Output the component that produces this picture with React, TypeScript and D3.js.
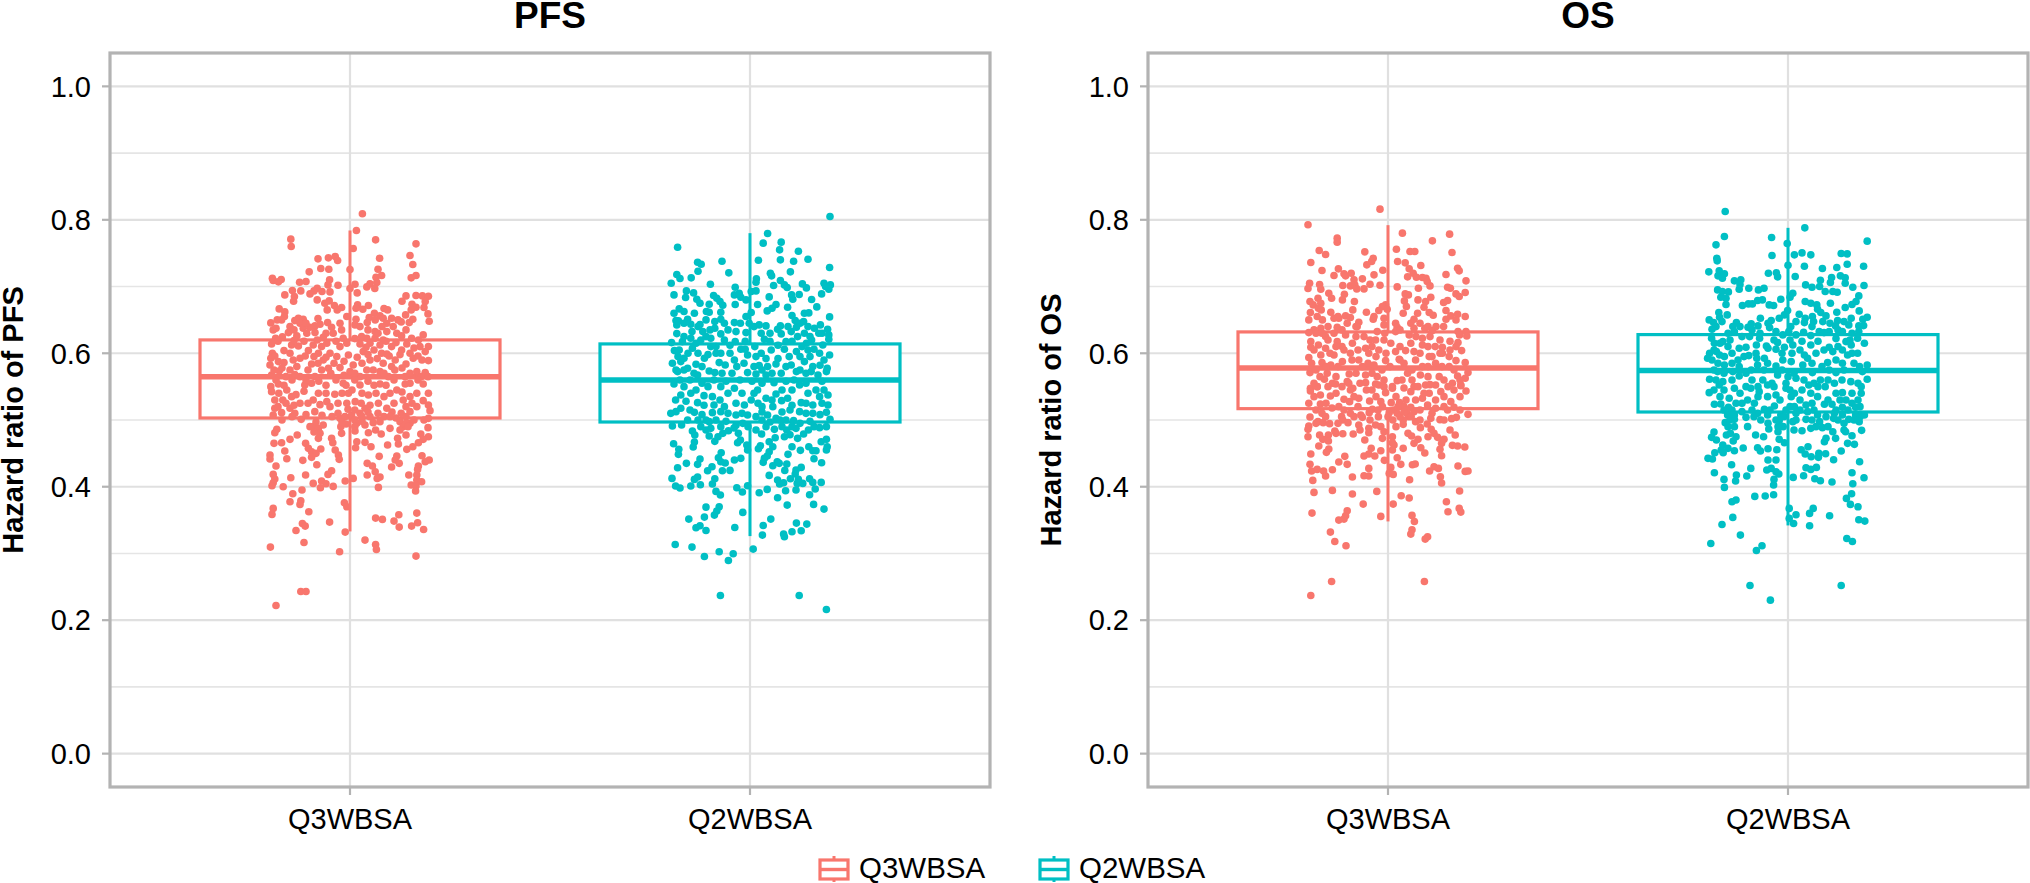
import React from "react";
import * as d3 from "d3";

// Each point is [horizontal jitter in category units, hazard ratio]
const pfsQ3: number[][] = [[.031,.809],[.016,.784],[-.148,.771],[-.147,.76],[.064,.77],[.165,.764],[.008,.757],[.15,.7465],[.157,.733],[.074,.7425],[-.08,.7415],[-.054,.743],[-.037,.745],[-.031,.739],[-.073,.727],[-.053,.726],[-.102,.722],[0,.7255],[.07,.726],[.079,.7165],[.065,.714],[.165,.7165],[.153,.713],[-.194,.7125],[-.192,.709],[-.172,.7105],[-.179,.707],[-.126,.7065],[-.11,.7075],[-.051,.71],[.067,.706],[.0125,.7035],[-.03,.702],[-.055,.7025],[.05,.704],[.042,.6995],[.062,.697],[0,.697],[-.144,.694],[-.123,.6935],[-.082,.6975],[-.09,.6935],[-.07,.6925],[-.05,.692],[.018,.6905],[-.1,.689],[-.163,.6875],[-.139,.685],[-.141,.678],[-.082,.68],[-.052,.6785],[-.063,.675],[.14,.686],[.13,.678],[.165,.6865],[.181,.686],[.196,.6855],[.188,.6775],[.155,.6735],[.165,.669],[.153,.665],[.185,.6685],[.195,.659],[.198,.648],[.139,.6575],[.157,.651],[.148,.646],[.128,.647],[.019,.6725],[.015,.6675],[.046,.6715],[.032,.666],[.085,.667],[.094,.665],[.061,.66],[-.039,.6715],[-.021,.6685],[-.032,.665],[-.057,.665],[-.177,.6665],[-.163,.662],[-.164,.655],[-.171,.65],[-.198,.6455],[-.008,.655],[.015,.651],[.048,.6535],[.043,.646],[.075,.656],[.063,.65],[.083,.6525],[.104,.6525],[.092,.645],[-.129,.6525],[-.117,.651],[-.138,.649],[-.125,.645],[-.056,.646],[-.075,.6435],[-.0875,.641],[-.1,.639],[-.117,.6375],[-.025,.645],[-.046,.639],[-.021,.635],[.0125,.6425],[.025,.64],[.108,.64],[.092,.6325],[.0625,.6325],[-.192,.635],[-.185,.6375],[-.154,.631],[-.169,.6245],[-.186,.6225],[-.133,.626],[-.108,.63],[-.0875,.631],[-.067,.624],[-.042,.63],[-.017,.6225],[.029,.625],[.042,.6225],[.0625,.6225],[.083,.62],[.117,.63],[.129,.626],[.154,.6225],[.183,.6275],[.171,.62],[-.196,.614],[-.146,.6125],[-.129,.611],[-.092,.6125],[-.071,.61],[-.025,.61],[-.008,.615],[.025,.614],[.05,.615],[.075,.6125],[.104,.61],[.129,.605],[.175,.61],[.196,.61],[.188,.6025],[-.194,.6],[-.15,.6],[-.104,.604],[-.079,.6],[-.05,.6],[-.004,.5975],[.033,.6025],[.079,.6],[.092,.599],[.15,.6],[-.198,.5925],[-.125,.5925],[-.067,.59],[-.033,.595],[.05,.59],[.113,.59],[.158,.5925],[.196,.589],[-.2,.5825],[-.179,.5875],[-.165,.586],[-.133,.58],[-.096,.584],[-.025,.5785],[.008,.5825],[.083,.585],[.104,.58],[.042,.575],[-.177,.5735],[-.15,.575],[-.071,.575],[-.054,.5775],[0,.5725],[.075,.5725],[.167,.5725],[.188,.571],[-.196,.5675],[-.125,.565],[-.0875,.565],[.025,.565],[.096,.565],[.138,.565],[-.198,.55],[-.179,.554],[-.196,.5425],[-.158,.545],[-.146,.535],[-.113,.5525],[-.096,.555],[-.125,.525],[-.079,.54],[-.092,.53],[-.058,.5275],[-.038,.5385],[-.05,.52],[-.017,.555],[-.004,.54],[.013,.5275],[-.008,.525],[.025,.5525],[.046,.5375],[.0375,.5175],[.075,.554],[.1,.54],[.071,.525],[.092,.5175],[.117,.545],[.133,.53],[.138,.554],[.167,.54],[.183,.554],[.196,.54],[.183,.529],[.196,.5225],[.2,.514],[.167,.52],[.15,.5125],[-.188,.53],[-.188,.5175],[-.15,.5175],[-.171,.511],[-.192,.5075],[-.138,.51],[-.122,.501],[-.088,.5125],[-.025,.5025],[-.0125,.505],[.004,.5075],[.017,.495],[.025,.51],[.0375,.4925],[.05,.505],[.058,.496],[.075,.4975],[.1,.4875],[.125,.4975],[.133,.49],[.15,.495],[.196,.5025],[.195,.4885],[-.183,.486],[-.188,.481],[-.132,.4775],[-.15,.471],[-.171,.466],[-.19,.465],[-.092,.49],[-.079,.4875],[-.067,.4925],[-.075,.48],[-.079,.4725],[-.021,.48],[-.023,.49],[.0125,.4835],[.046,.481],[.078,.479],[.14,.4775],[.177,.479],[.196,.475],[.183,.471],[.171,.466],[.157,.46],[.142,.456],[-.046,.4725],[-.043,.466],[-.111,.465],[.017,.4675],[.0375,.4665],[.014,.4585],[.0525,.46],[.094,.4625],[.119,.4725],[.121,.464],[-.104,.4575],[-.073,.4565],[-.096,.4525],[-.085,.45],[-.163,.4535],[-.037,.455],[-.029,.4475],[-.027,.441],[-.158,.442],[-.2,.4475],[-.2,.4415],[-.118,.4395],[-.096,.444],[.073,.4455],[.117,.446],[.113,.44],[.123,.435],[.18,.4465],[.198,.44],[.188,.4375],[-.083,.433],[-.185,.431],[.043,.435],[.056,.431],[.104,.4295],[.171,.431],[.169,.426],[-.046,.424],[-.055,.4185],[-.192,.4185],[-.111,.4175],[-.148,.4135],[-.188,.4115],[-.192,.406],[-.195,.4015],[.063,.4225],[.043,.4175],[.075,.4145],[.068,.4125],[.147,.4175],[.167,.4175],[.167,.41],[.179,.4075],[.153,.4025],[.165,.401],[.164,.3935],[.008,.4125],[-.012,.4085],[-.071,.4085],[-.092,.405],[-.06,.4045],[-.074,.3985],[-.042,.4005],[-.167,.4],[-.12,.395],[.071,.399],[-.143,.3895],[-.15,.3775],[-.123,.379],[-.125,.3735],[-.192,.3675],[-.195,.3585],[-.103,.3625],[-.014,.376],[-.008,.37],[.064,.353],[.081,.351],[.122,.358],[.11,.3485],[.167,.3605],[.169,.346],[.154,.341],[.123,.3395],[.184,.336],[-.119,.345],[-.112,.341],[-.051,.347],[-.135,.3345],[-.012,.332],[.0375,.32],[.064,.3135],[.066,.306],[-.115,.3165],[-.199,.3095],[-.026,.3025],[.165,.296],[-.123,.243],[-.11,.243],[-.185,.222]];
const pfsQ3Core: number[][] = [[-.18,.618],[-.165,.604],[-.14,.619],[-.115,.618],[-.082,.62],[-.058,.615],[-.035,.618],[.012,.622],[.04,.609],[.06,.605],[.09,.618],[.115,.616],[.142,.614],[.16,.608],[.18,.59],[-.188,.596],[-.17,.578],[-.142,.59],[-.112,.596],[-.09,.595],[-.06,.594],[-.04,.585],[-.015,.588],[.018,.594],[.045,.598],[.068,.592],[.098,.596],[.125,.598],[.14,.584],[.17,.596],[-.19,.575],[-.16,.565],[-.138,.568],[-.105,.575],[-.08,.585],[-.048,.57],[-.015,.567],[.012,.57],[.03,.585],[.058,.575],[.085,.57],[.112,.575],[.13,.578],[.15,.57],[.178,.565],[.195,.565],[-.185,.56],[-.165,.552],[-.145,.56],[-.11,.56],[-.078,.558],[-.06,.552],[-.035,.56],[-.01,.552],[.012,.56],[.045,.558],[.06,.552],[.09,.552],[.11,.56],[.15,.555],[.17,.56],[-.178,.54],[-.168,.53],[-.135,.538],[-.115,.543],[-.06,.54],[-.02,.54],[.005,.545],[.03,.54],[.065,.54],[.085,.535],[.13,.542],[.15,.535],[-.18,.52],[-.16,.525],[-.14,.522],[-.105,.525],[-.075,.523],[-.03,.525],[.028,.525],[.05,.522],[.11,.525],[.14,.52],[.155,.525],[-.17,.5],[-.145,.505],[-.11,.508],[-.07,.507],[-.045,.505],[-.01,.494],[.012,.515],[.03,.498],[.045,.512],[.07,.51],[.085,.505],[.105,.512],[.115,.503],[.128,.51],[.14,.505],[.16,.5],[.012,.5],[.03,.505],[.14,.495],[.125,.485],[.145,.49],[.1,.505],[.064,.485],[-.09,.482],[-.085,.497],[-.1,.49],[-.02,.497],[-.03,.51],[-.005,.516],[.012,.49],[.185,.5],[-.182,.65],[-.15,.64],[-.11,.645],[-.08,.652],[.12,.65],[.14,.635],[-.14,.635],[.08,.64],[.07,.63],[.045,.635],[-.06,.63]];

const pfsQ2: number[][] = [[.2,.805],[.044,.7795],[.033,.765],[.078,.7665],[.074,.755],[.121,.753],[-.181,.759],[.021,.7395],[.076,.74],[.109,.738],[.145,.741],[-.07,.738],[-.131,.7365],[-.122,.7335],[-.13,.723],[-.053,.7205],[.199,.7285],[.051,.72],[.101,.722],[-.183,.718],[-.175,.712],[-.147,.713],[-.197,.705],[.054,.716],[.016,.7115],[.015,.7065],[-.099,.7035],[-.037,.699],[.076,.709],[.086,.7025],[.093,.6985],[.131,.704],[.141,.698],[.059,.7015],[.185,.705],[.201,.7025],[.189,.7],[.197,.696],[.003,.6925],[.015,.6935],[-.159,.6935],[-.141,.6905],[-.19,.6875],[-.161,.6835],[-.039,.6875],[-.027,.69],[-.023,.684],[-.01,.68],[-.091,.6865],[-.083,.6825],[-.133,.681],[-.125,.675],[-.102,.6735],[-.075,.6775],[-.068,.672],[-.037,.673],[.048,.6845],[.019,.673],[.104,.6875],[.123,.688],[.107,.681],[.179,.689],[.154,.6805],[.167,.6695],[.094,.669],[.065,.673],[.055,.6675],[.043,.6635],[-.177,.6665],[-.165,.6625],[-.19,.66],[-.139,.66],[-.109,.6625],[-.102,.6615],[-.073,.6615],[.003,.661],[-.01,.655],[.136,.66],[.147,.6605],[.105,.6565],[.199,.6545],[.113,.649],[.134,.6475],[-.185,.649],[-.156,.651],[-.179,.6485],[-.183,.6425],[-.148,.6435],[-.125,.643],[-.088,.6475],[-.073,.651],[-.064,.645],[-.039,.646],[-.024,.645],[-.002,.645],[.023,.6425],[.04,.641],[.076,.641],[.069,.636],[.116,.639],[.145,.64],[.176,.6425],[.161,.6375],[.194,.636],[-.088,.6375],[-.145,.6325],[-.118,.6325],[-.183,.6295],[-.073,.629],[-.035,.6325],[-.01,.631],[.028,.63],[.078,.629],[.103,.6325],[.136,.63],[.172,.63],[.197,.6275],[-.148,.6225],[-.098,.6225],[-.064,.62],[.036,.621],[.119,.625],[.154,.62],[.197,.621],[-.196,.616],[-.169,.6175],[-.123,.62],[-.037,.6175],[.09,.6175],[.141,.615],[.182,.6125],[-.144,.6075],[-.098,.61],[-.189,.604],[-.177,.605],[-.073,.6],[-.023,.606],[.028,.6],[.053,.605],[.086,.606],[.116,.6025],[.145,.605],[.174,.6],[.199,.5975],[-.165,.5925],[-.114,.5925],[-.006,.5975],[.015,.595],[-.039,.59],[.136,.5875],[-.194,.585],[-.173,.5875],[-.135,.5835],[-.077,.586],[-.062,.5825],[-.033,.58],[.023,.5815],[.065,.584],[.044,.58],[.103,.5825],[.157,.58],[.193,.5775],[-.181,.5725],[-.156,.5775],[-.102,.5735],[-.088,.571],[-.006,.571],[.015,.569],[.04,.5675],[.078,.57],[.116,.5725],[.153,.5725],[.191,.5725],[.17,.5675],[-.131,.5675],[-.19,.554],[-.173,.5375],[-.186,.53],[-.148,.54],[-.131,.526],[-.115,.5365],[-.094,.535],[-.09,.5225],[-.064,.52],[-.073,.55],[-.039,.5475],[-.014,.5225],[.003,.53],[.019,.545],[.04,.5325],[.065,.539],[.057,.52],[.094,.5325],[.079,.529],[.128,.526],[.157,.5225],[.174,.535],[.195,.5375],[.195,.5225],[.124,.5525],[.165,.545],[-.198,.51],[-.185,.5125],[-.173,.5175],[-.139,.5115],[-.094,.511],[-.073,.5125],[-.035,.5075],[-.006,.5075],[.015,.505],[.044,.5075],[.065,.5025],[.09,.5],[.109,.499],[.124,.5125],[.157,.51],[.191,.5115],[.2,.501],[.191,.49],[.174,.4885],[-.194,.491],[-.171,.4925],[-.156,.5],[-.123,.49],[-.102,.4975],[-.098,.4875],[-.073,.49],[-.054,.484],[-.068,.48],[-.018,.495],[.015,.485],[-.144,.4835],[-.138,.4775],[-.102,.476],[-.088,.468],[-.029,.48],[-.024,.47],[-.031,.466],[.029,.479],[.061,.486],[.092,.485],[.086,.475],[.115,.4875],[.134,.479],[.119,.4725],[.146,.485],[.063,.4735],[.048,.4675],[.191,.471],[.178,.4675],[-.191,.4645],[-.139,.467],[-.142,.4595],[-.178,.456],[-.179,.4485],[-.008,.4625],[-.006,.455],[.026,.4615],[.021,.457],[.057,.46],[.048,.4525],[.043,.446],[.105,.46],[.126,.4545],[.147,.46],[.157,.454],[.165,.454],[.16,.442],[.193,.46],[.191,.455],[.095,.4485],[-.072,.451],[-.079,.4435],[-.159,.435],[-.125,.4415],[-.131,.4335],[-.073,.4375],[-.062,.4355],[-.039,.44],[-.023,.4425],[.036,.4425],[.033,.4365],[.068,.4375],[.057,.4315],[.073,.435],[.092,.434],[.179,.436],[-.181,.4285],[-.095,.43],[-.106,.424],[-.069,.424],[-.05,.4245],[.087,.4245],[.128,.429],[.115,.425],[.113,.419],[.048,.417],[-.195,.4125],[-.131,.4145],[-.139,.411],[-.088,.412],[-.094,.404],[-.186,.401],[-.175,.398],[-.148,.401],[-.124,.403],[.069,.41],[.074,.404],[.084,.406],[.101,.412],[.121,.411],[.118,.405],[.132,.405],[.149,.412],[.157,.4065],[.178,.4065],[.163,.3965],[.115,.395],[.089,.394],[.043,.396],[.023,.391],[-.033,.3985],[-.019,.392],[-.006,.4015],[-.085,.393],[-.074,.3875],[.149,.388],[.069,.3835],[.093,.3725],[.159,.3735],[.185,.3665],[-.077,.37],[-.11,.3695],[-.083,.3635],[-.089,.3575],[-.114,.3545],[-.153,.3515],[-.018,.3615],[.052,.3515],[-.125,.3415],[-.135,.3385],[-.11,.3345],[-.038,.339],[.033,.342],[.116,.3455],[.142,.344],[.128,.334],[.105,.3325],[.084,.329],[.086,.325],[.031,.3275],[-.187,.3135],[-.145,.3095],[-.077,.3025],[-.114,.2955],[-.042,.2995],[-.054,.2895],[.008,.3065],[-.074,.237],[.123,.237],[.191,.216]];
const pfsQ2Core: number[][] = [[-.165,.625],[-.135,.615],[-.11,.625],[-.085,.61],[-.05,.612],[-.012,.618],[.012,.61],[.05,.618],[.07,.612],[.105,.618],[.13,.61],[.16,.606],[-.18,.595],[-.155,.6],[-.13,.6],[-.105,.598],[-.085,.6],[-.05,.6],[-.012,.606],[.04,.592],[.07,.592],[.098,.595],[.125,.595],[.15,.595],[.185,.59],[-.185,.575],[-.165,.575],[-.14,.57],[-.12,.58],[-.07,.57],[-.045,.57],[-.015,.585],[.01,.58],[.03,.575],[.055,.57],[.09,.58],[.125,.575],[.14,.57],[.175,.582],[-.175,.56],[-.15,.56],[-.12,.555],[-.09,.56],[-.06,.558],[-.025,.56],[.005,.558],[.03,.555],[.06,.556],[.09,.558],[.11,.56],[.14,.555],[.18,.558],[-.165,.55],[-.135,.545],[-.105,.55],[-.055,.54],[-.02,.54],[.01,.54],[.03,.52],[.08,.545],[.105,.545],[.145,.54],[.185,.545],[-.16,.528],[-.115,.522],[-.075,.53],[-.035,.525],[.02,.525],[.055,.53],[.105,.522],[.14,.525],[.18,.525],[-.15,.515],[-.12,.508],[-.055,.51],[-.02,.51],[.03,.512],[.08,.512],[.1,.515],[.14,.51],[.175,.508],[-.11,.5],[-.085,.5],[-.06,.498],[-.035,.492],[-.005,.49],[.03,.5],[.05,.497],[.075,.5],[.105,.49],[.125,.495],[.15,.498],[-.13,.5],[-.11,.485],[-.08,.475],[-.04,.488],[.04,.49],[.08,.49],[.1,.478],[.16,.49],[-.13,.64],[-.11,.65],[-.055,.635],[.01,.64],[.095,.64],[.125,.645],[.15,.625],[-.1,.635],[.05,.63],[.18,.63],[-.165,.645]];

const osQ3: number[][] = [[-.02,.816],[-.2,.7925],[.036,.78],[.154,.7785],[-.127,.7725],[-.127,.7665],[.111,.7685],[.021,.756],[-.172,.754],[-.156,.748],[-.058,.752],[.055,.7525],[.067,.7525],[.16,.751],[-.037,.7425],[-.041,.7375],[-.053,.7325],[-.193,.736],[.024,.7375],[.043,.7355],[.082,.7315],[-.165,.724],[-.124,.7265],[-.013,.7245],[.053,.7265],[.174,.7275],[.178,.7235],[-.135,.7165],[-.11,.719],[-.106,.716],[-.092,.72],[-.035,.7175],[.145,.718],[.063,.72],[.049,.7145],[.071,.714],[.086,.7135],[.095,.7125],[.195,.7085],[-.064,.7115],[-.085,.71],[-.196,.705],[-.2,.697],[-.171,.703],[-.168,.696],[-.113,.7015],[-.094,.701],[-.083,.7025],[-.078,.6965],[-.06,.6965],[-.045,.7035],[-.02,.702],[.023,.6995],[.076,.6975],[.098,.7075],[.105,.701],[.149,.699],[.156,.6975],[.193,.691],[.17,.689],[.178,.685],[-.148,.69],[-.141,.6825],[-.109,.6885],[-.114,.68],[-.084,.6775],[.043,.689],[.051,.6875],[.075,.68],[.107,.684],[.041,.6785],[.149,.679],[.139,.676],[.094,.6775],[-.195,.6775],[-.175,.6825],[-.187,.6725],[-.168,.675],[-.174,.6675],[-.194,.661],[-.167,.665],[.046,.67],[.09,.669],[.145,.664],[-.006,.6725],[-.014,.67],[-.023,.664],[-.002,.666],[-.088,.665],[-.054,.6615],[.038,.66],[.074,.66],[.103,.661],[.113,.657],[-.035,.655],[-.037,.651],[-.143,.6615],[-.177,.655],[-.164,.65],[-.198,.65],[-.135,.6525],[-.123,.6525],[-.106,.656],[-.094,.6535],[-.073,.6465],[-.102,.645],[-.01,.6525],[-.01,.6425],[.065,.651],[.057,.645],[.019,.645],[.023,.639],[.145,.651],[.157,.656],[.174,.6585],[.193,.655],[.17,.65],[.139,.64],[-.168,.6375],[-.185,.635],[-.127,.639],[-.077,.64],[.092,.6375],[.065,.6375],[.111,.634],[.195,.6325],[.175,.6325],[-.198,.631],[-.156,.625],[-.135,.63],[-.106,.6275],[-.06,.625],[-.027,.6325],[-.008,.63],[.019,.6325],[.053,.6275],[.086,.6225],[.197,.626],[.179,.6275],[-.193,.6175],[-.174,.6125],[-.127,.6175],[-.089,.615],[-.031,.62],[.007,.615],[.057,.615],[.086,.6125],[.155,.618],[.175,.616],[.118,.61],[.136,.609],[-.193,.609],[-.156,.6075],[-.11,.605],[-.056,.6075],[-.023,.605],[.044,.604],[.065,.6025],[.17,.61],[.184,.604],[-.168,.5975],[-.135,.5975],[-.094,.6],[-.048,.6],[.019,.6025],[.103,.595],[.136,.6],[-.198,.5935],[-.073,.59],[-.006,.589],[.028,.591],[.069,.59],[.153,.595],[-.165,.586],[-.114,.5875],[-.035,.5825],[-.191,.585],[.086,.58],[.119,.585],[.17,.589],[.193,.586],[-.143,.5825],[-.064,.58],[.153,.58],[-.195,.571],[-.152,.57],[-.097,.569],[-.056,.5675],[-.027,.565],[.049,.57],[.081,.5675],[.2,.571],[.174,.566],[.128,.565],[-.159,.561],[-.102,.5575],[.023,.559],[.161,.555],[-.139,.555],[.193,.5625],[-.031,.554],[-.177,.55],[-.194,.5475],[-.088,.5475],[.011,.55],[.182,.5515],[.094,.5525],[-.131,.554],[-.098,.555],[-.056,.556],[-.023,.5525],[.065,.55],[.119,.5525],[-.177,.55],[-.194,.5435],[-.169,.5375],[-.144,.536],[-.094,.545],[-.11,.531],[-.073,.5325],[-.054,.545],[-.006,.541],[.011,.5475],[.057,.5425],[.086,.5325],[.103,.54],[.132,.5425],[.165,.545],[.195,.5435],[.182,.5525],[-.198,.525],[-.169,.524],[-.123,.52],[-.096,.5275],[-.046,.5285],[-.018,.5275],[.008,.526],[.029,.526],[.069,.53],[.119,.53],[.157,.5275],[-.039,.516],[-.014,.52],[.015,.515],[.04,.52],[.057,.519],[.099,.5225],[.119,.5175],[.165,.519],[-.165,.51],[-.094,.51],[-.068,.5075],[-.047,.511],[.003,.511],[.023,.51],[.048,.51],[.065,.5125],[.149,.515],[-.195,.5045],[-.156,.505],[-.116,.505],[-.024,.505],[.051,.505],[.107,.5025],[.2,.5085],[.171,.504],[.159,.502],[.13,.5005],[.038,.5],[.069,.4975],[-.175,.4975],[-.162,.496],[-.146,.4945],[-.113,.5],[-.1,.496],[-.073,.4925],[-.064,.504],[.038,.4935],[.098,.494],[-.198,.491],[-.2,.486],[-.048,.4875],[-.031,.4925],[-.018,.49],[.081,.4885],[.108,.486],[.155,.485],[-.133,.4835],[-.113,.4795],[-.087,.479],[-.048,.481],[-.01,.4825],[.115,.48],[.168,.4775],[-.2,.475],[-.171,.4775],[-.149,.4775],[-.014,.4725],[.011,.475],[.059,.476],[.124,.474],[.14,.471],[-.163,.471],[-.149,.4685],[-.058,.47],[.075,.471],[.011,.466],[.065,.465],[.134,.465],[.161,.462],[.174,.461],[.192,.4595],[-.173,.461],[.038,.4575],[.082,.4585],[.015,.4625],[.011,.455],[.13,.456],[-.148,.4565],[-.154,.4515],[-.042,.4575],[-.018,.454],[.092,.4505],[-.193,.449],[-.108,.4455],[-.06,.446],[-.048,.449],[-.033,.446],[.134,.4465],[.023,.4435],[-.123,.437],[-.102,.4335],[-.009,.4395],[.032,.4335],[.061,.433],[.068,.434],[-.195,.4335],[-.191,.4235],[-.177,.426],[-.161,.4235],[-.139,.4255],[-.048,.4275],[.007,.429],[.115,.43],[.126,.4275],[.104,.4235],[.175,.431],[.193,.423],[.2,.4235],[-.156,.416],[-.089,.4145],[-.06,.4165],[-.048,.416],[.003,.42],[.013,.4185],[.131,.415],[.054,.4105],[.134,.4055],[-.188,.4095],[-.185,.3915],[-.139,.3945],[-.089,.389],[-.028,.393],[.033,.3865],[.053,.383],[.179,.3935],[-.062,.374],[.013,.374],[.146,.3775],[-.19,.3605],[-.102,.364],[-.106,.3565],[-.11,.3515],[-.123,.35],[-.018,.3555],[.06,.357],[.066,.348],[.15,.3625],[.178,.3675],[.182,.362],[.06,.3355],[.057,.329],[-.144,.332],[-.133,.318],[-.105,.3115],[.099,.325],[.093,.3215],[-.141,.258],[.091,.258],[-.193,.237]];
const osQ3Core: number[][] = [[-.18,.63],[-.15,.62],[-.115,.635],[-.08,.625],[-.045,.62],[-.01,.62],[.03,.635],[.07,.625],[.105,.625],[.13,.62],[-.185,.605],[-.145,.6],[-.115,.61],[-.075,.605],[-.04,.61],[-.005,.6],[.03,.61],[.08,.6],[.1,.61],[.13,.6],[.155,.605],[-.18,.575],[-.155,.58],[-.125,.58],[-.09,.59],[-.05,.585],[-.015,.575],[.005,.58],[.04,.585],[.06,.575],[.1,.58],[.135,.58],[.165,.575],[-.17,.565],[-.13,.565],[-.08,.57],[-.04,.57],[-.01,.56],[.035,.56],[.06,.56],[.1,.565],[.14,.56],[.18,.56],[-.185,.555],[-.15,.55],[-.115,.55],[-.07,.555],[-.04,.545],[-.01,.55],[.04,.548],[.075,.55],[.105,.553],[.15,.55],[-.185,.535],[-.155,.525],[-.13,.54],[-.085,.535],[-.03,.535],[.02,.535],[.045,.53],[.09,.54],[.14,.535],[.18,.535],[-.18,.515],[-.14,.518],[-.11,.515],[-.075,.52],[-.025,.515],[.025,.52],[.045,.515],[.08,.515],[.11,.51],[.14,.52],[.18,.515],[-.18,.495],[-.125,.495],[-.085,.505],[-.045,.5],[0,.505],[.012,.5],[.03,.505],[.04,.512],[.058,.505],[.08,.5],[.14,.5],[-.13,.48],[-.07,.485],[.02,.49],[.05,.48],[.1,.475],[-.125,.655],[-.08,.64],[-.15,.64],[.08,.645],[.12,.64],[-.165,.63],[-.13,.61],[.11,.595],[.03,.59],[-.03,.595],[.1,.64]];

const osQ2: number[][] = [[-.157,.8125],[.042,.788],[-.159,.775],[-.041,.7735],[.198,.768],[-.18,.7625],[-.002,.7645],[.016,.7475],[.035,.7505],[.057,.7475],[.133,.7495],[.148,.749],[-.04,.7465],[-.178,.7425],[-.177,.7385],[.148,.7335],[.041,.7305],[0,.732],[.189,.7305],[.086,.727],[.122,.7285],[-.198,.722],[-.172,.7235],[-.159,.719],[-.175,.716],[-.164,.7125],[-.049,.72],[-.029,.7205],[-.026,.7145],[.018,.715],[.131,.716],[.143,.713],[.109,.7135],[.081,.7095],[.106,.706],[-.134,.7085],[-.118,.71],[-.12,.703],[-.122,.696],[-.098,.6975],[-.074,.695],[-.06,.6975],[.044,.7025],[.06,.699],[.079,.7],[.143,.705],[.162,.699],[.19,.7015],[.093,.6925],[.112,.6925],[.123,.6915],[-.176,.695],[-.164,.6925],[-.149,.692],[-.168,.684],[-.155,.6825],[-.155,.673],[.012,.69],[.005,.684],[-.018,.681],[-.064,.68],[-.076,.679],[-.089,.674],[-.099,.674],[-.114,.6715],[-.047,.6725],[-.036,.6715],[.043,.6775],[.057,.675],[.072,.6725],[.074,.666],[.106,.675],[.177,.686],[.17,.6775],[.16,.673],[.143,.6685],[.122,.6615],[-.173,.661],[-.152,.6575],[-.171,.654],[-.197,.65],[-.165,.6475],[-.186,.646],[.178,.6635],[.198,.654],[.187,.651],[.158,.6525],[-.001,.664],[-.009,.6575],[-.022,.6525],[.028,.6585],[.043,.6525],[.061,.655],[.082,.661],[.095,.656],[-.042,.649],[-.069,.6525],[-.129,.646],[-.092,.644],[-.138,.64],[-.1,.639],[-.075,.641],[.02,.6475],[.007,.64],[.041,.646],[.064,.6475],[.087,.6475],[.124,.649],[.14,.6475],[.119,.641],[.152,.6425],[.177,.641],[.189,.6415],[-.19,.636],[-.134,.6325],[-.09,.635],[-.046,.6385],[-.03,.6325],[.002,.6325],[.039,.6315],[.078,.6325],[.103,.6325],[.136,.6325],[.177,.6325],[-.191,.6225],[-.096,.625],[-.071,.6225],[-.013,.6275],[.02,.6275],[.057,.6265],[.09,.631],[.174,.6225],[-.184,.615],[-.163,.6175],[-.122,.6075],[-.105,.609],[-.079,.6125],[-.054,.611],[-.026,.616],[.012,.6125],[.057,.6125],[.103,.609],[.145,.6175],[.158,.6125],[.191,.615],[-.196,.6],[-.179,.6025],[-.159,.595],[-.098,.5965],[-.05,.6075],[-.03,.606],[-.009,.609],[.041,.5975],[.112,.6025],[.136,.605],[.174,.6],[-.201,.5925],[-.171,.5975],[-.125,.59],[-.078,.5925],[-.059,.5925],[-.013,.59],[.049,.5925],[.149,.5975],[.008,.5875],[-.051,.585],[.099,.586],[.136,.585],[.198,.5825],[.179,.58],[-.159,.5825],[-.122,.58],[-.076,.5825],[-.03,.581],[.037,.5825],[.103,.575],[-.176,.5725],[-.138,.5725],[-.092,.575],[.061,.571],[.12,.571],[.186,.5725],[-.196,.561],[-.163,.5575],[-.122,.566],[-.063,.56],[-.026,.5675],[.02,.5625],[.081,.56],[.157,.5575],[.198,.561],[-.105,.55],[-.005,.555],[.052,.5525],[.116,.555],[.183,.55],[-.172,.5525],[-.134,.5475],[-.093,.5475],[-.051,.5525],[-.005,.5475],[.016,.54],[.057,.54],[.093,.55],[.136,.541],[.183,.54],[-.197,.541],[-.184,.5235],[-.168,.524],[-.147,.5325],[-.13,.525],[-.101,.53],[-.072,.5425],[-.051,.535],[-.03,.5375],[.008,.535],[.074,.535],[.145,.53],[.175,.53],[-.149,.519],[-.084,.525],[-.059,.516],[-.034,.521],[-.005,.515],[.016,.52],[.045,.5225],[.091,.5235],[.11,.5235],[.136,.519],[.169,.519],[-.151,.5075],[-.134,.5075],[-.115,.5125],[-.105,.504],[-.076,.51],[-.051,.5075],[-.018,.5075],[.02,.51],[.049,.5125],[.074,.5075],[.116,.51],[.136,.5075],[.169,.5075],[.191,.5075],[-.157,.496],[-.134,.501],[-.068,.5],[-.022,.499],[.012,.4975],[.045,.501],[.079,.4975],[.114,.5025],[.152,.501],[.178,.4975],[-.134,.49],[-.101,.49],[-.048,.4865],[-.025,.49],[.057,.4875],[.086,.4885],[.14,.495],[.035,.484],[.144,.4825],[.184,.4845],[-.185,.482],[-.191,.474],[-.179,.47],[-.154,.4775],[-.144,.48],[-.13,.475],[-.137,.4685],[-.081,.4775],[-.061,.475],[-.025,.4825],[-.022,.471],[-.009,.466],[.095,.4725],[.091,.4675],[.112,.4825],[.119,.4725],[.16,.4765],[.149,.465],[.166,.4635],[-.163,.4625],[-.167,.455],[-.15,.4575],[-.183,.451],[-.162,.451],[-.134,.454],[-.112,.458],[-.076,.4585],[-.069,.4535],[-.05,.457],[-.028,.4555],[.033,.4555],[.05,.46],[.043,.449],[.058,.445],[.077,.45],[.076,.444],[.094,.4495],[.133,.4535],[-.2,.4425],[-.189,.4415],[-.05,.44],[-.03,.44],[.114,.4405],[.179,.4375],[-.141,.433],[-.093,.4275],[-.053,.425],[-.042,.4275],[-.03,.4225],[-.023,.419],[.045,.4285],[.057,.426],[.071,.429],[.039,.4165],[.013,.414],[-.184,.421],[-.129,.4175],[-.103,.416],[-.16,.411],[-.131,.4085],[-.035,.411],[-.036,.4025],[-.159,.399],[.067,.412],[.081,.409],[.11,.407],[.16,.421],[.162,.4045],[.19,.4135],[.159,.3895],[-.036,.388],[-.057,.386],[-.083,.3855],[.146,.3825],[-.13,.38],[-.14,.3775],[.156,.3735],[.175,.37],[.003,.3675],[.063,.3675],[.054,.36],[.02,.358],[.003,.3525],[.014,.345],[.104,.3565],[-.138,.354],[-.165,.3435],[.054,.3415],[.177,.3505],[.192,.3485],[-.119,.3275],[.147,.3225],[.161,.318],[-.193,.315],[-.065,.3115],[-.079,.3045],[-.095,.252],[.133,.252],[-.044,.23]];
const osQ2Core: number[][] = [[-.185,.605],[-.17,.615],[-.145,.62],[-.115,.625],[-.07,.63],[-.035,.62],[.005,.62],[.035,.618],[.075,.618],[.12,.622],[.155,.62],[-.19,.59],[-.175,.585],[-.15,.61],[-.14,.6],[-.11,.595],[-.08,.6],[-.015,.6],[.01,.6],[.03,.605],[.07,.6],[.09,.605],[.125,.61],[.16,.6],[-.185,.575],[-.16,.57],[-.14,.585],[-.105,.57],[-.06,.575],[-.015,.575],[.015,.57],[.06,.585],[.085,.58],[.12,.59],[.14,.575],[.165,.585],[-.18,.56],[-.16,.545],[-.14,.56],[-.09,.56],[-.04,.555],[0,.565],[.04,.56],[.065,.555],[.1,.56],[.135,.56],[.175,.555],[-.185,.545],[-.17,.535],[-.12,.54],[-.075,.55],[-.035,.55],[.005,.545],[.035,.545],[.075,.55],[.12,.54],[.16,.54],[-.16,.515],[-.115,.525],[-.075,.535],[-.02,.53],[.03,.53],[.06,.525],[.1,.53],[.13,.53],[.16,.525],[-.14,.515],[-.09,.515],[-.045,.515],[.005,.52],[.03,.515],[.065,.515],[.12,.515],[.15,.515],[.18,.52],[-.145,.5],[-.085,.505],[-.03,.5],[-.01,.505],[.02,.5],[.06,.5],[.095,.505],[.125,.5],[.165,.5],[.18,.505],[-.15,.49],[-.05,.495],[-.012,.49],[.015,.485],[.07,.49],[.1,.49],[.14,.485],[-.15,.63],[-.12,.64],[-.05,.645],[.06,.64],[.105,.645],[.16,.63],[-.18,.64],[.125,.635]];

// [whisker low, Q1, median, Q3, whisker high]
const pfsQ3Box = [0.333, 0.503, 0.565, 0.62, 0.784];
const pfsQ2Box = [0.326, 0.497, 0.56, 0.614, 0.78];
const osQ3Box = [0.348, 0.517, 0.578, 0.632, 0.792];
const osQ2Box = [0.342, 0.512, 0.574, 0.628, 0.788];

const categories = ["Q3WBSA", "Q2WBSA"];
const colors = ["#F8766D", "#00BFC4"];
const majorTicks = [0, 0.2, 0.4, 0.6, 0.8, 1.0];
const minorTicks = [0.1, 0.3, 0.5, 0.7, 0.9];
const FONT = "'Liberation Sans', Arial, sans-serif";

const H = d3.scaleLinear().domain([-0.05, 1.05]).range([787, 53]);

function Panel({ title, yLabel, left, right, labelX, series, boxes }: any) {
  const x = d3.scaleLinear().domain([-0.6, 1.6]).range([left, right]);
  const top = H.range()[1];
  const bottom = H.range()[0];
  return (
    <g>
      <text x={(left + right) / 2} y={28} textAnchor="middle" fontFamily={FONT} fontWeight="bold" fontSize={37} fill="#000">{title}</text>
      {minorTicks.map((t) => (
        <line key={t} x1={left} x2={right} y1={H(t)} y2={H(t)} stroke="#e5e5e5" strokeWidth={1.6} />
      ))}
      {majorTicks.map((t) => (
        <line key={t} x1={left} x2={right} y1={H(t)} y2={H(t)} stroke="#e0e0e0" strokeWidth={2.2} />
      ))}
      {categories.map((c, i) => (
        <line key={c} x1={x(i)} x2={x(i)} y1={top} y2={bottom} stroke="#e0e0e0" strokeWidth={2.2} />
      ))}
      {boxes.map((b: number[], i: number) => (
        <g key={i} stroke={colors[i]} fill="none">
          <line x1={x(i)} x2={x(i)} y1={H(b[0])} y2={H(b[1])} strokeWidth={3} />
          <line x1={x(i)} x2={x(i)} y1={H(b[3])} y2={H(b[4])} strokeWidth={3} />
          <rect x={x(i - 0.375)} width={x(i + 0.375) - x(i - 0.375)} y={H(b[3])} height={H(b[1]) - H(b[3])} fill="#fff" strokeWidth={3.2} />
          <line x1={x(i - 0.375)} x2={x(i + 0.375)} y1={H(b[2])} y2={H(b[2])} strokeWidth={5.5} />
        </g>
      ))}
      {series.map((pts: number[][], i: number) => (
        <g key={i} fill={colors[i]}>
          {pts.map((p, j) => (
            <circle key={j} cx={x(i + p[0])} cy={H(p[1])} r={3.8} />
          ))}
        </g>
      ))}
      <rect x={left} y={top} width={right - left} height={bottom - top} fill="none" stroke="#b3b3b3" strokeWidth={3.2} />
      {majorTicks.map((t) => (
        <g key={t}>
          <line x1={left - 8} x2={left} y1={H(t)} y2={H(t)} stroke="#b3b3b3" strokeWidth={2.2} />
          <text x={left - 19} y={H(t) + 10.3} textAnchor="end" fontFamily={FONT} fontSize={29} fill="#000">{t.toFixed(1)}</text>
        </g>
      ))}
      {categories.map((c, i) => (
        <g key={c}>
          <line x1={x(i)} x2={x(i)} y1={bottom} y2={bottom + 8} stroke="#b3b3b3" strokeWidth={2.2} />
          <text x={x(i)} y={829} textAnchor="middle" fontFamily={FONT} fontSize={29} fill="#000">{c}</text>
        </g>
      ))}
      <text transform={`translate(${labelX},${(top + bottom) / 2}) rotate(-90)`} textAnchor="middle" fontFamily={FONT} fontWeight="bold" fontSize={29} fill="#000">{yLabel}</text>
    </g>
  );
}

function LegendKey({ x, color, label }: { x: number; color: string; label: string }) {
  return (
    <g>
      <line x1={x + 14} x2={x + 14} y1={856} y2={882} stroke={color} strokeWidth={3} />
      <rect x={x} y={860} width={28} height={19} fill="#fff" stroke={color} strokeWidth={3.2} />
      <line x1={x} x2={x + 28} y1={869.5} y2={869.5} stroke={color} strokeWidth={3.4} />
      <text x={x + 39} y={878} fontFamily={FONT} fontSize={29.5} fill="#000">{label}</text>
    </g>
  );
}

export default function App() {
  return (
    <svg width={2030} height={883} viewBox="0 0 2030 883" style={{ position: "absolute", left: 0, top: 0, background: "#fff" }}>
      <Panel title="PFS" yLabel="Hazard ratio of PFS" left={110} right={990} labelX={23} series={[[...pfsQ3, ...pfsQ3Core], [...pfsQ2, ...pfsQ2Core]]} boxes={[pfsQ3Box, pfsQ2Box]} />
      <Panel title="OS" yLabel="Hazard ratio of OS" left={1148} right={2028} labelX={1061} series={[[...osQ3, ...osQ3Core], [...osQ2, ...osQ2Core]]} boxes={[osQ3Box, osQ2Box]} />
      <LegendKey x={820} color={colors[0]} label={categories[0]} />
      <LegendKey x={1040} color={colors[1]} label={categories[1]} />
    </svg>
  );
}
